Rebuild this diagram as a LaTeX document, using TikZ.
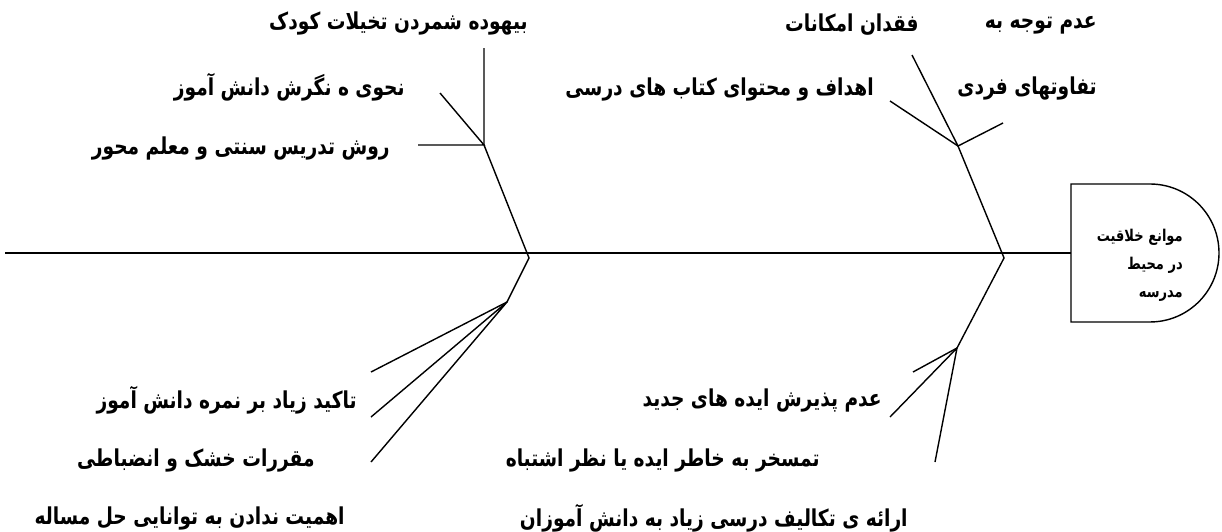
\documentclass[tikz,border=0pt]{standalone}
\usepackage{fontspec}
\newfontfamily\farsi[Script=Arabic]{DejaVu Sans}
\TeXXeTstate=1
\newcommand{\fa}[1]{\scalebox{1}[1.25]{\beginR #1\endR}}

\begin{document}
\begin{tikzpicture}[x=0.02cm, y=-0.02cm,
  bone/.style={line width=0.8pt},
  spine/.style={line width=1.6pt},
  cause/.style={anchor=east, inner sep=0pt, font=\farsi\bfseries\fontsize{10.6}{13}\selectfont},
  effect/.style={align=right, inner sep=0pt, font=\farsi\bfseries\fontsize{7.4}{16}\selectfont}]
\useasboundingbox (0,0) rectangle (1222,531);

% Head of the fish
\draw[bone] (1071,184) -- (1150,184) arc[start angle=90, end angle=-90, radius=1.38cm] -- (1071,322) -- cycle;
\node[effect, anchor=north east] (effect) at (1183,229) {\fa{موانع خلاقیت}\\\fa{در محیط}\\\fa{مدرسه}};

% Spine
\coordinate (tail) at (5,253);
\coordinate (head) at (1071,253);
\draw[spine] (tail) -- (head);

% Upper left bone
\coordinate (lu-spine) at (527,253);
\coordinate (lu-joint) at (484,145);
\coordinate (lu-a) at (484,48);
\coordinate (lu-b) at (440,93);
\coordinate (lu-c) at (418,145);
\draw[bone] (lu-spine) -- (lu-joint) -- (lu-a);
\draw[bone] (lu-b) -- (lu-joint) -- (lu-c);
\node[cause] (lu-t1) at (528,24) {\fa{بیهوده شمردن تخیلات کودک}};
\node[cause] (lu-t2) at (405,87) {\fa{نحوی ه نگرش دانش آموز}};
\node[cause] (lu-t3) at (390,148) {\fa{روش تدریس سنتی و معلم محور}};

% Lower left bone
\coordinate (ll-spine) at (529,258);
\coordinate (ll-joint) at (507,302);
\coordinate (ll-a) at (371,372);
\coordinate (ll-b) at (371,417);
\coordinate (ll-c) at (371,462);
\draw[bone] (lu-spine) -- (ll-spine) -- (ll-joint) -- (ll-a);
\draw[bone] (ll-b) -- (ll-joint) -- (ll-c);
\node[cause] (ll-t1) at (357,400) {\fa{تاکید زیاد بر نمره دانش آموز}};
\node[cause] (ll-t2) at (315,460) {\fa{مقررات خشک و انضباطی}};
\node[cause] (ll-t3) at (345,518) {\fa{اهمیت ندادن به توانایی حل مساله}};

% Upper right bone
\coordinate (ru-spine) at (1002,253);
\coordinate (ru-joint) at (958,146);
\coordinate (ru-a) at (912,55);
\coordinate (ru-b) at (890,101);
\coordinate (ru-c) at (1003,123);
\draw[bone] (ru-spine) -- (ru-joint) -- (ru-a);
\draw[bone] (ru-b) -- (ru-joint) -- (ru-c);
\node[cause] (ru-t1) at (919,25) {\fa{فقدان امکانات}};
\node[cause] (ru-t2) at (1097,25) {\fa{عدم توجه به}};
\node[cause] (ru-t3) at (874,89) {\fa{اهداف و محتوای کتاب های درسی}};
\node[cause] (ru-t4) at (1097,89) {\fa{تفاوتهای فردی}};

% Lower right bone
\coordinate (rl-spine) at (1004,258);
\coordinate (rl-joint) at (957,348);
\coordinate (rl-a) at (913,372);
\coordinate (rl-b) at (890,417);
\coordinate (rl-c) at (935,462);
\draw[bone] (ru-spine) -- (rl-spine) -- (rl-joint) -- (rl-a);
\draw[bone] (rl-b) -- (rl-joint) -- (rl-c);
\node[cause] (rl-t1) at (882,400) {\fa{عدم پذیرش ایده های جدید}};
\node[cause] (rl-t2) at (820,460) {\fa{تمسخر به خاطر ایده یا نظر اشتباه}};
\node[cause] (rl-t3) at (908,518) {\fa{ارائه ی تکالیف درسی زیاد به دانش آموزان}};
\end{tikzpicture}
\end{document}
